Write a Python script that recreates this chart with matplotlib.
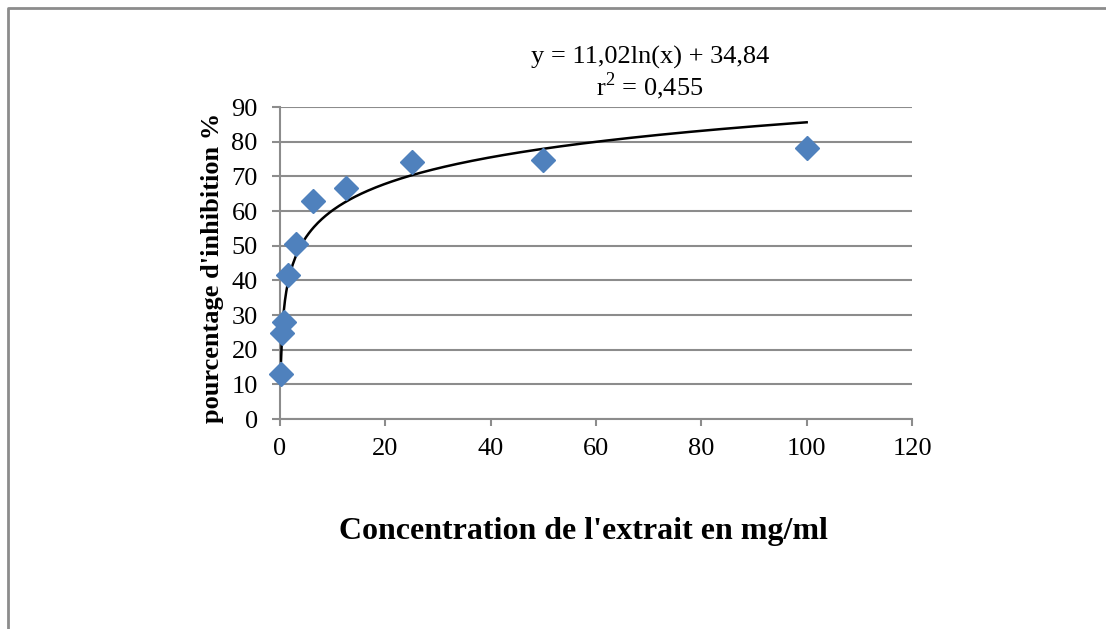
import numpy as np
import matplotlib
matplotlib.use("Agg")
import matplotlib.pyplot as plt
from matplotlib.lines import Line2D

# Data
concentration = [0.195, 0.39, 0.78, 1.5625, 3.125, 6.25, 12.5, 25, 50, 100]
inhibition = [13.0, 24.8, 28.0, 41.5, 50.5, 62.9, 66.6, 74.1, 74.7, 78.2]
coef_a = 11.02
coef_b = 34.84
equation_text = "y = 11,02ln(x) + 34,84"
r2_text = "r$^{2}$ = 0,455"
x_ticks = [0, 20, 40, 60, 80, 100, 120]
y_ticks = [0, 10, 20, 30, 40, 50, 60, 70, 80, 90]
x_label = "Concentration de l'extrait en mg/ml"
y_label = "pourcentage d'inhibition %"

plt.rcParams['font.family'] = ['Liberation Serif', 'DejaVu Serif']
plt.rcParams['mathtext.fontset'] = 'custom'
plt.rcParams['mathtext.rm'] = 'Liberation Serif'

W, H = 1106, 629
fig = plt.figure(figsize=(W / 100, H / 100), dpi=100)
ax = fig.add_axes([280 / W, 1 - 419 / H, (912 - 280) / W, (419 - 107) / H])

grid_col = '#8c8c8c'
ax.set_xlim(0, 120)
ax.set_ylim(0, 90)
ax.set_xticks(x_ticks)
ax.set_yticks(y_ticks)
ax.yaxis.grid(True, color=grid_col, lw=1.5)
ax.set_axisbelow(True)
for s in ['top', 'right']:
    ax.spines[s].set_visible(False)
for s in ['left', 'bottom']:
    ax.spines[s].set_color(grid_col)
    ax.spines[s].set_linewidth(1.5)
ax.tick_params(axis='both', colors=grid_col, width=1.5, labelsize=19,
               labelcolor='black')
ax.tick_params(axis='x', length=5, pad=9)
ax.tick_params(axis='y', length=6, pad=10)

# trendline
xs = np.linspace(min(concentration), max(concentration), 400)
ax.plot(xs, coef_a * np.log(xs) + coef_b, color='black', lw=1.8, zorder=3)

ax.plot(concentration, inhibition, linestyle='none', marker='D', ms=12,
        color='#4F81BD', mec='#4F81BD', zorder=4, clip_on=False)

fig.text(212 / W, 1 - 268 / H, y_label, fontsize=19, fontweight='bold',
         ha='center', va='center', rotation=90)
fig.text(583 / W, 1 - 531 / H, x_label, fontsize=23, fontweight='bold',
         ha='center', va='center')

fig.text(650 / W, 1 - 57 / H, equation_text, fontsize=19, ha='center', va='center')
fig.text(650 / W, 1 - 86 / H, r2_text, fontsize=19, ha='center', va='center')

# outer frame (partially visible)
fig.add_artist(Line2D([7.5 / W, 7.5 / W, 1.0], [0.0, 1 - 7.5 / H, 1 - 7.5 / H],
                      transform=fig.transFigure, color='#8c8c8c', lw=2))

fig.savefig('out.png', dpi=100)
